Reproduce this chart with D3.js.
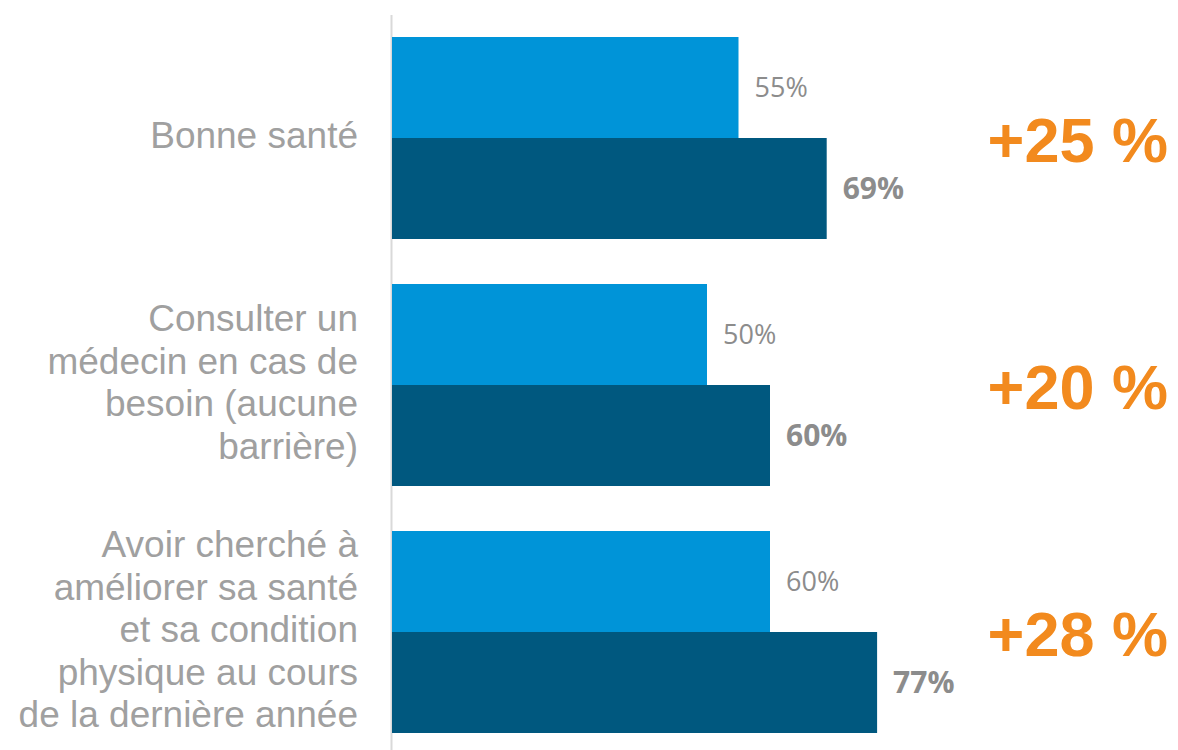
<!DOCTYPE html>
<html>
<head>
<meta charset="utf-8">
<script src="https://cdn.jsdelivr.net/npm/d3@7"></script>
<style>
  body { margin: 0; background: #fff; }
  svg { display: block; }
</style>
</head>
<body>
<div id="chart"></div>
<script>
// data
var categories = ["Bonne santé", "Consulter un médecin", "Améliorer sa santé"];
var categoryLines = [
  ["Bonne santé"],
  ["Consulter un", "médecin en cas de", "besoin (aucune", "barrière)"],
  ["Avoir cherché à", "améliorer sa santé", "et sa condition", "physique au cours", "de la dernière année"]
];
var series = ["avant", "apres"];
var valuesAvant = [55, 50, 60];
var valuesApres = [69, 60, 77];
var deltas = ["+25 %", "+20 %", "+28 %"];

var svgWidth = 1178;
var svgHeight = 750;

var svg = d3.select("#chart").append("svg")
  .attr("width", svgWidth)
  .attr("height", svgHeight);

// scales
var xScale = d3.scaleLinear()
  .domain([0, 100])
  .range([392, 392 + 630]);

var yScale = d3.scaleBand()
  .domain(categories)
  .range([37, 733])
  .paddingInner(45 / 247)
  .paddingOuter(0);

var ySub = d3.scaleBand()
  .domain(series)
  .range([0, yScale.bandwidth()]);

var colors = { avant: "#0094d8", apres: "#00587f" };

var rows = categories.map(function(c, i) {
  return {
    cat: c,
    lines: categoryLines[i],
    delta: deltas[i],
    bars: [
      { key: "avant", value: valuesAvant[i] },
      { key: "apres", value: valuesApres[i] }
    ]
  };
});

// vertical axis line
svg.append("line")
  .attr("x1", xScale(0) - 0.5)
  .attr("x2", xScale(0) - 0.5)
  .attr("y1", 15)
  .attr("y2", svgHeight)
  .attr("stroke", "#d9d9d9")
  .attr("stroke-width", 2);

var groups = svg.selectAll(".group")
  .data(rows)
  .enter()
  .append("g")
  .attr("class", "group")
  .attr("transform", d => `translate(0, ${yScale(d.cat)})`);

// bars
groups.selectAll("rect")
  .data(d => d.bars)
  .enter()
  .append("rect")
  .attr("x", xScale(0))
  .attr("y", d => ySub(d.key))
  .attr("width", d => xScale(d.value) - xScale(0))
  .attr("height", ySub.bandwidth())
  .attr("fill", d => colors[d.key]);

// value labels
groups.selectAll(".val")
  .data(d => d.bars)
  .enter()
  .append("text")
  .attr("class", "val")
  .attr("x", d => xScale(d.value) + 16)
  .attr("y", d => ySub(d.key) + ySub.bandwidth() / 2)
  .attr("dy", "0.36em")
  .attr("font-family", "'Open Sans', sans-serif")
  .attr("font-size", d => d.key === "apres" ? "30px" : "27px")
  .attr("font-weight", d => d.key === "apres" ? "bold" : "normal")
  .attr("fill", "#8c8c8c")
  .text(d => d.value + "%");

// category labels (multi-line, right aligned)
var lineH = 42.5;
groups.append("text")
  .attr("text-anchor", "end")
  .attr("font-family", "'Liberation Sans', Arial, sans-serif")
  .attr("font-size", "37px")
  .attr("fill", "#a0a0a0")
  .selectAll("tspan")
  .data(d => d.lines.map((l, i) => ({ text: l, i: i, n: d.lines.length })))
  .enter()
  .append("tspan")
  .attr("x", 358)
  .attr("y", d => yScale.bandwidth() / 2 + 10 + (d.i - (d.n - 1) / 2) * lineH)
  .text(d => d.text);

// orange change labels
groups.append("text")
  .attr("x", 1168)
  .attr("y", yScale.bandwidth() / 2 + 24)
  .attr("text-anchor", "end")
  .attr("font-family", "'Liberation Sans', Arial, sans-serif")
  .attr("font-size", "63px")
  .attr("font-weight", "bold")
  .attr("fill", "#f28a1e")
  .text(d => d.delta);
</script>
</body>
</html>
